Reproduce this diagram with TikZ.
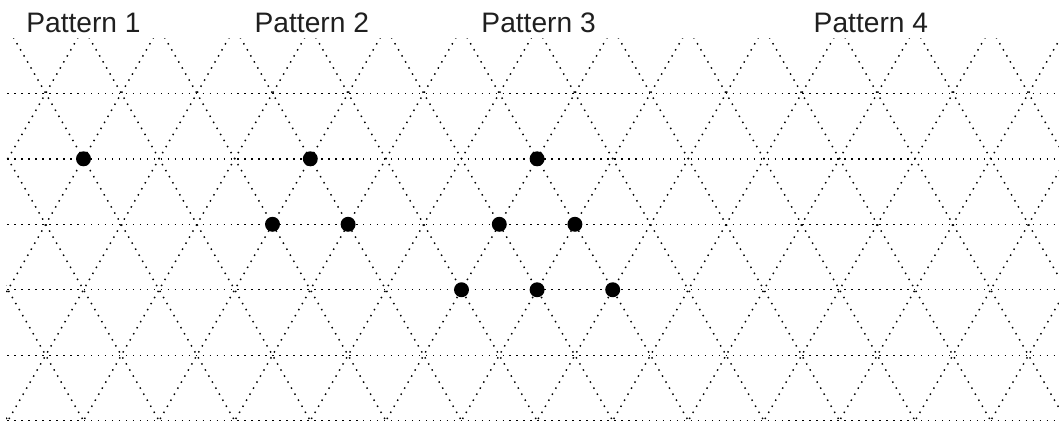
\documentclass[tikz,border=0pt]{standalone}
\usepackage{fontspec}
\setmainfont{Liberation Sans}
\tikzset{
  grd/.style={draw=black,line width=1.1pt,dash pattern=on 1.1pt off 4.15pt},
  spot/.style={circle,fill=black,minimum size=3.96mm,inner sep=0pt},
  lbl/.style={font=\fontsize{21.2}{25}\selectfont,anchor=base,text=black!88},
}
\def\h{1.7321}

\begin{document}
\begin{tikzpicture}
\useasboundingbox (-2.209,-0.087) rectangle (25.807,11.130);
% ---------------- dotted triangular lattice
\begin{scope}
  \clip (-2.05,-0.05) rectangle (25.81,10.124);
  \foreach \j in {0,...,5}
    \draw[grd] (-2.2,\j*\h) -- (25.9,\j*\h);
  \foreach \k in {-4,...,16} {
    \draw[grd] (2*\k,0) ++(240:0.5) -- ++(60:12.5);
    \draw[grd] (2*\k,0) ++(300:0.5) -- ++(120:12.5);
  }
\end{scope}
% ---------------- titles
\node[lbl] (p1) at (0,10.275) {Pattern 1};
\node[lbl] (p2) at (6.04,10.275) {Pattern 2};
\node[lbl] (p3) at (12.04,10.275) {Pattern 3};
\node[lbl] (p4) at (20.83,10.275) {Pattern 4};
% ---------------- pattern 1
\node[spot] (a1) at (0,4*\h) {};
% ---------------- pattern 2
\node[spot] (b1) at (6,4*\h) {};
\node[spot] (b2) at (5,3*\h) {}; \node[spot] (b3) at (7,3*\h) {};
% ---------------- pattern 3
\node[spot] (c1) at (12,4*\h) {};
\node[spot] (c2) at (11,3*\h) {}; \node[spot] (c3) at (13,3*\h) {};
\node[spot] (c4) at (10,2*\h) {}; \node[spot] (c5) at (12,2*\h) {};
\node[spot] (c6) at (14,2*\h) {};
\end{tikzpicture}
\end{document}
